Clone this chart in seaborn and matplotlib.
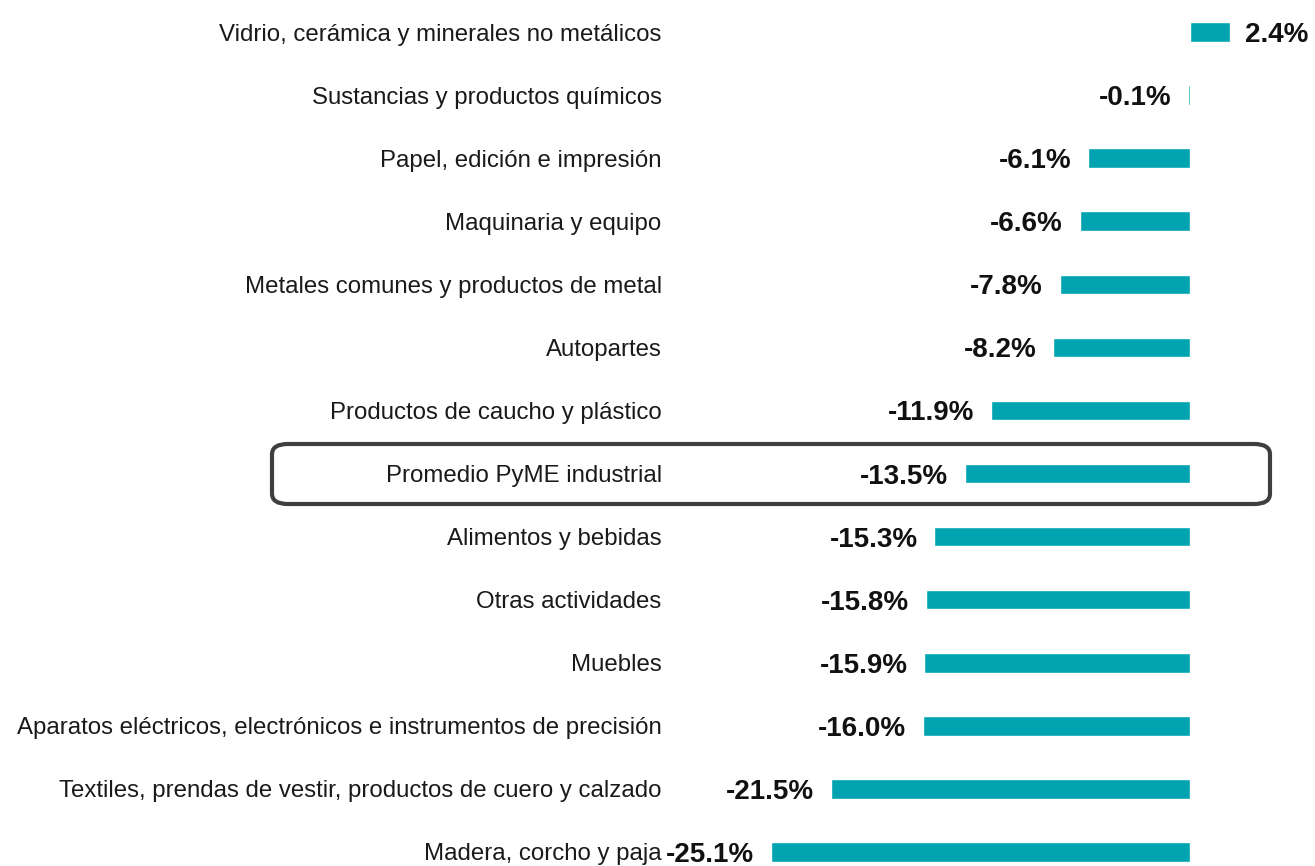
import matplotlib
matplotlib.use('Agg')
import matplotlib.pyplot as plt
from matplotlib.patches import FancyBboxPatch
import seaborn as sns
import pandas as pd

sectores = [
    "Vidrio, cerámica y minerales no metálicos",
    "Sustancias y productos químicos",
    "Papel, edición e impresión",
    "Maquinaria y equipo",
    "Metales comunes y productos de metal",
    "Autopartes",
    "Productos de caucho y plástico",
    "Promedio PyME industrial",
    "Alimentos y bebidas",
    "Otras actividades",
    "Muebles",
    "Aparatos eléctricos, electrónicos e instrumentos de precisión",
    "Textiles, prendas de vestir, productos de cuero y calzado",
    "Madera, corcho y paja",
]
variacion = [2.4, -0.1, -6.1, -6.6, -7.8, -8.2, -11.9, -13.5, -15.3, -15.8, -15.9, -16.0, -21.5, -25.1]

df = pd.DataFrame({"sector": sectores, "var": variacion})

sns.set_theme(style="white")
plt.rcParams['font.family'] = ['Liberation Sans', 'DejaVu Sans']

fig = plt.figure(figsize=(13.15, 8.66), dpi=100)
ax = fig.add_axes([670 / 1315, 0, 645 / 1315, 1])

sns.barplot(data=df, x="var", y="sector", orient="h", color="#00A3B0",
            saturation=1, width=0.31, ax=ax)

ax.set_xlim(-(1190 - 670) / 16.7, (1315 - 1190) / 16.7)
ax.set_ylim(13 + 14 / 63, -32 / 63)
ax.set_xlabel("")
ax.set_ylabel("")
ax.set_xticks([])
ax.tick_params(axis="y", length=0, pad=6, labelsize=17.3, labelcolor="#1a1a1a")
for s in ax.spines.values():
    s.set_visible(False)

for i, v in enumerate(variacion):
    if v >= 0:
        ax.text(v + 0.9, i, f"{v:.1f}%", ha="left", va="center_baseline",
                fontsize=20, fontweight="bold", color="#111111")
    else:
        ax.text(v - 1.0, i, f"{v:.1f}%", ha="right", va="center_baseline",
                fontsize=20, fontweight="bold", color="#111111")

# highlight box around the PyME average row
box = FancyBboxPatch((272 / 1315, (866 - 504) / 866), (1270 - 272) / 1315, 60 / 866,
                     boxstyle="round,pad=0,rounding_size=0.012",
                     transform=fig.transFigure, fill=False,
                     edgecolor="#3f3f3f", linewidth=3)
fig.patches.append(box)

fig.savefig("out.png", dpi=100)
